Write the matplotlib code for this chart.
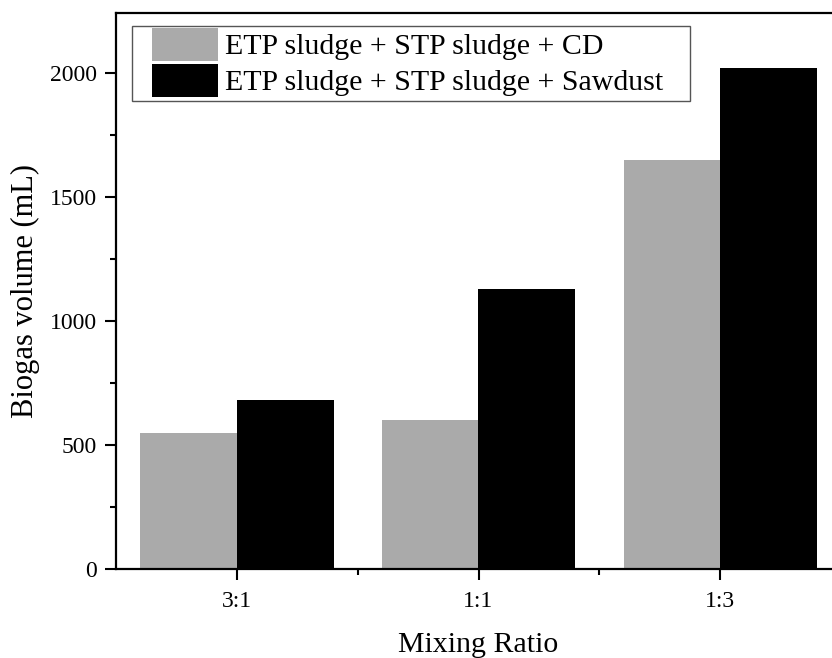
import matplotlib
matplotlib.use("Agg")
import matplotlib.pyplot as plt
import numpy as np
from matplotlib.ticker import MultipleLocator, FixedLocator
from matplotlib.patches import Rectangle

categories = ["3:1", "1:1", "1:3"]
cd_values = [550, 600, 1650]
sawdust_values = [680, 1130, 2020]
series_labels = ["ETP sludge + STP sludge + CD", "ETP sludge + STP sludge + Sawdust"]

plt.rcParams['font.family'] = ['Liberation Serif', 'DejaVu Serif']

W, H = 832, 658
fig = plt.figure(figsize=(W / 100, H / 100), dpi=100)
left_px, right_px, top_px, bot_px = 116, 841, 12.7, 569
ax = fig.add_axes([left_px / W, 1 - bot_px / H, (right_px - left_px) / W, (bot_px - top_px) / H])

x = np.arange(len(categories))
bw = 0.4
ax.bar(x - bw / 2, cd_values, width=bw, color="#aaaaaa", label=series_labels[0], linewidth=0)
ax.bar(x + bw / 2, sawdust_values, width=bw, color="#000000", label=series_labels[1], linewidth=0)

ax.set_xlim(-0.5, 2.5)
ax.set_ylim(0, 2245)
ax.set_xticks(x)
ax.set_xticklabels(categories)
ax.xaxis.set_minor_locator(FixedLocator([0.5, 1.5]))
ax.yaxis.set_major_locator(MultipleLocator(500))
ax.yaxis.set_minor_locator(MultipleLocator(250))

for s in ax.spines.values():
    s.set_linewidth(1.6)
ax.tick_params(axis='both', which='major', direction='out', length=8, width=1.5, labelsize=17)
ax.tick_params(axis='both', which='minor', direction='out', length=4, width=1.5)
ax.tick_params(axis='y', which='major', pad=5.5)
ax.tick_params(axis='x', which='major', pad=7.5)

ax.set_ylabel("Biogas volume (mL)", fontsize=22)
ax.set_xlabel("Mixing Ratio", fontsize=21.5)
ax.yaxis.set_label_coords(-0.105, 0.5)
ax.xaxis.set_label_coords(0.5, -0.113)

hx = (152 - left_px) / (right_px - left_px)
hy = (bot_px - 28) / (bot_px - top_px)
leg = ax.legend(loc="upper left", bbox_to_anchor=(hx, hy), fontsize=21.5, frameon=False,
                handlelength=2.2, handleheight=1.3,
                handletextpad=0.25, labelspacing=0.12, borderpad=0.0,
                borderaxespad=0.0)

# legend frame drawn as in the reference (wider horizontal padding)
fx0, fx1, fy0, fy1 = 132, 690, 26, 101
fig.patches.append(Rectangle((fx0 / W, 1 - fy1 / H), (fx1 - fx0) / W, (fy1 - fy0) / H,
                             transform=fig.transFigure, fill=False,
                             edgecolor="#555555", linewidth=1.0, zorder=5))

fig.savefig("out.png", dpi=100, facecolor="white")
